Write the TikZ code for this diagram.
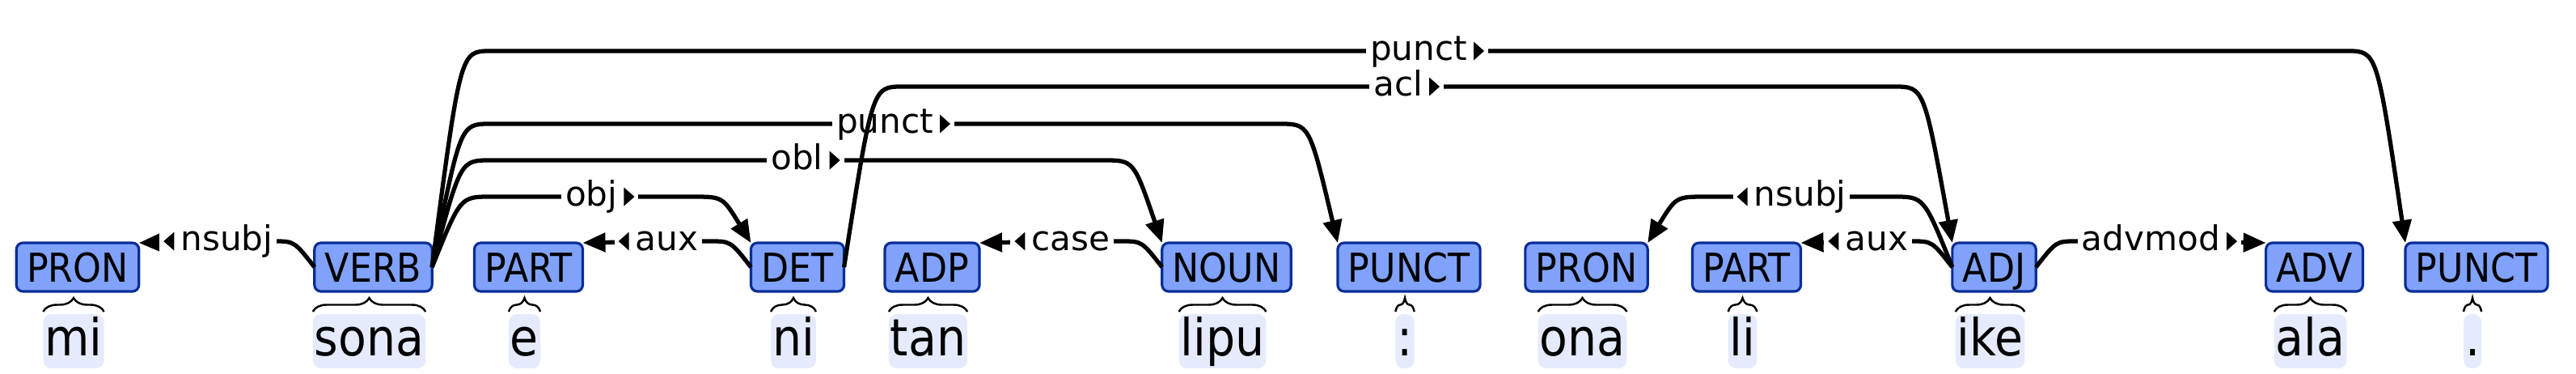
\documentclass[tikz,border=0pt]{standalone}
\usepackage{fontspec}
\usepackage{tikz}
\usetikzlibrary{arrows.meta,positioning,calc,decorations.pathreplacing}

\newfontfamily\tagfont{DejaVu Sans Condensed}
\newfontfamily\lblfont{DejaVu Sans}

\definecolor{tagfill}{RGB}{128,162,250}
\definecolor{tagline}{RGB}{10,45,150}
\definecolor{wordbg}{RGB}{229,235,252}

% small direction marks in the arc labels
\newcommand{\rtri}{\hspace{0.08cm}\tikz[baseline=0pt]\fill (0,0) -- (0,0.23) -- (0.13,0.115) -- cycle;}
\newcommand{\ltri}{\tikz[baseline=0pt]\fill (0.13,0) -- (0.13,0.23) -- (0,0.115) -- cycle;\hspace{0.08cm}}

\tikzset{
  tagbox/.style={draw=tagline, fill=tagfill, line width=0.9pt, rounded corners=0.08cm,
    inner xsep=0.13cm, inner ysep=0.12cm, text height=0.36cm, text depth=0cm,
    outer sep=0pt, font=\tagfont\fontsize{14}{16}\selectfont},
  wordbox/.style={fill=wordbg, rounded corners=0.1cm, inner xsep=0.02cm, inner ysep=0cm,
    text height=0.51cm, text depth=0.16cm, outer sep=0pt,
    font=\tagfont\fontsize{18}{20}\selectfont},
  brc/.style={decorate, decoration={brace, amplitude=0.17cm}, line width=0.7pt},
  deplbl/.style={fill=white, inner xsep=0.05cm, inner ysep=0.02cm, text height=0.32cm,
    text depth=0.09cm, pos=1, font=\lblfont\fontsize{12}{14}\selectfont},
  rl/.style={xshift=0.105cm},
  ll/.style={xshift=-0.105cm},
  % long arcs: #1 = height of the horizontal part
  rarc/.style={to path={.. controls ($(\tikztostart)+(0.35,#1)$) .. ($(\tikztostart)+(0.72,#1)$)
    -- ($(\tikztostart)!0.5!(\tikztotarget)+(0,{#1-0.15})$) \tikztonodes
    -- ($(\tikztotarget)+(-0.72,{#1-0.3})$)
    .. controls ($(\tikztotarget)+(-0.35,{#1-0.3})$) .. (\tikztotarget)}},
  larc/.style={to path={.. controls ($(\tikztostart)+(-0.35,#1)$) .. ($(\tikztostart)+(-0.72,#1)$)
    -- ($(\tikztostart)!0.5!(\tikztotarget)+(0,{#1-0.15})$) \tikztonodes
    -- ($(\tikztotarget)+(0.72,{#1-0.3})$)
    .. controls ($(\tikztotarget)+(0.35,{#1-0.3})$) .. (\tikztotarget)}},
  % short arcs between neighbours
  rshort/.style={to path={.. controls ($(\tikztostart)+(0.25,0.32)$) .. ($(\tikztostart)+(0.5,0.32)$)
    -- ($(\tikztostart)!0.5!(\tikztotarget)+(0,0.17)$) \tikztonodes -- (\tikztotarget)}},
  lshort/.style={to path={.. controls ($(\tikztostart)+(-0.25,0.32)$) .. ($(\tikztostart)+(-0.5,0.32)$)
    -- ($(\tikztostart)!0.5!(\tikztotarget)+(0,0.17)$) \tikztonodes -- (\tikztotarget)}}
}

\begin{document}
\begin{tikzpicture}[>={Triangle[length=0.28cm,width=0.23cm]}, line width=1.5pt]

  \useasboundingbox (0,-1.31) rectangle (31.85,3.30);

  \node[tagbox] (PRONa)  at (0.96,0)   {PRON};
  \node[tagbox] (VERB)   at (4.615,0)  {VERB};
  \node[tagbox] (PARTa)  at (6.535,0)  {PART};
  \node[tagbox] (DET)    at (9.86,0)   {DET};
  \node[tagbox] (ADP)    at (11.525,0) {ADP};
  \node[tagbox] (NOUN)   at (15.165,0) {NOUN};
  \node[tagbox] (PUNCTa) at (17.42,0)  {PUNCT};
  \node[tagbox] (PRONb)  at (19.615,0) {PRON};
  \node[tagbox] (PARTb)  at (21.595,0) {PART};
  \node[tagbox] (ADJ)    at (24.655,0) {ADJ};
  \node[tagbox] (ADV)    at (28.615,0) {ADV};
  \node[tagbox] (PUNCTb) at (30.62,0)  {PUNCT};

  \node[wordbox] (mi)    [below=0.28cm of PRONa, xshift=-0.05cm]  {mi};
  \node[wordbox] (sona)  [below=0.28cm of VERB, xshift=-0.05cm]   {sona};
  \node[wordbox] (e)     [below=0.28cm of PARTa, xshift=-0.05cm]  {e};
  \node[wordbox] (ni)    [below=0.28cm of DET, xshift=-0.05cm]    {ni};
  \node[wordbox] (tan)   [below=0.28cm of ADP, xshift=-0.05cm]    {tan};
  \node[wordbox] (lipu)  [below=0.28cm of NOUN, xshift=-0.05cm]   {lipu};
  \node[wordbox] (colon) [below=0.28cm of PUNCTa, xshift=-0.05cm] {:};
  \node[wordbox] (ona)   [below=0.28cm of PRONb, xshift=-0.05cm]  {ona};
  \node[wordbox] (li)    [below=0.28cm of PARTb, xshift=-0.05cm]  {li};
  \node[wordbox] (ike)   [below=0.28cm of ADJ, xshift=-0.05cm]    {ike};
  \node[wordbox] (ala)   [below=0.28cm of ADV, xshift=-0.05cm]    {ala};
  \node[wordbox] (dot)   [below=0.28cm of PUNCTb, xshift=-0.05cm] {.};

  \draw[brc] ([yshift=0.03cm]mi.north west)    -- ([yshift=0.03cm]mi.north east);
  \draw[brc] ([yshift=0.03cm]sona.north west)  -- ([yshift=0.03cm]sona.north east);
  \draw[brc] ([yshift=0.03cm]e.north west)     -- ([yshift=0.03cm]e.north east);
  \draw[brc] ([yshift=0.03cm]ni.north west)    -- ([yshift=0.03cm]ni.north east);
  \draw[brc] ([yshift=0.03cm]tan.north west)   -- ([yshift=0.03cm]tan.north east);
  \draw[brc] ([yshift=0.03cm]lipu.north west)  -- ([yshift=0.03cm]lipu.north east);
  \draw[brc] ([yshift=0.03cm]colon.north west) -- ([yshift=0.03cm]colon.north east);
  \draw[brc] ([yshift=0.03cm]ona.north west)   -- ([yshift=0.03cm]ona.north east);
  \draw[brc] ([yshift=0.03cm]li.north west)    -- ([yshift=0.03cm]li.north east);
  \draw[brc] ([yshift=0.03cm]ike.north west)   -- ([yshift=0.03cm]ike.north east);
  \draw[brc] ([yshift=0.03cm]ala.north west)   -- ([yshift=0.03cm]ala.north east);
  \draw[brc] ([yshift=0.03cm]dot.north west)   -- ([yshift=0.03cm]dot.north east);

 \path[->]
 (VERB.east)
	 edge [rarc=2.67] node [deplbl,rl] {punct\rtri} (PUNCTb.north west)
	 edge [rarc=1.77] node [deplbl,rl] {punct\rtri} (PUNCTa.north west)
	 edge [rarc=1.32] node [deplbl,rl] {obl\rtri} (NOUN.north west)
	 edge [rarc=0.87] node [deplbl,rl] {obj\rtri} (DET.north west)
 (VERB.west)
	 edge [lshort] node [deplbl,ll] {\ltri nsubj} (PRONa.north east)
 (DET.east)
	 edge [rarc=2.23] node [deplbl,rl] {acl\rtri} (ADJ.north west)
 (DET.west)
	 edge [lshort] node [deplbl,ll] {\ltri aux} (PARTa.north east)
 (NOUN.west)
	 edge [lshort] node [deplbl,ll] {\ltri case} (ADP.north east)
 (ADJ.west)
	 edge [larc=0.87] node [deplbl,ll] {\ltri nsubj} (PRONb.north east)
	 edge [lshort] node [deplbl,ll] {\ltri aux} (PARTb.north east)
 (ADJ.east)
	 edge [rshort] node [deplbl,rl] {advmod\rtri} (ADV.north west)
 ; % end of \path

\end{tikzpicture}
\end{document}
